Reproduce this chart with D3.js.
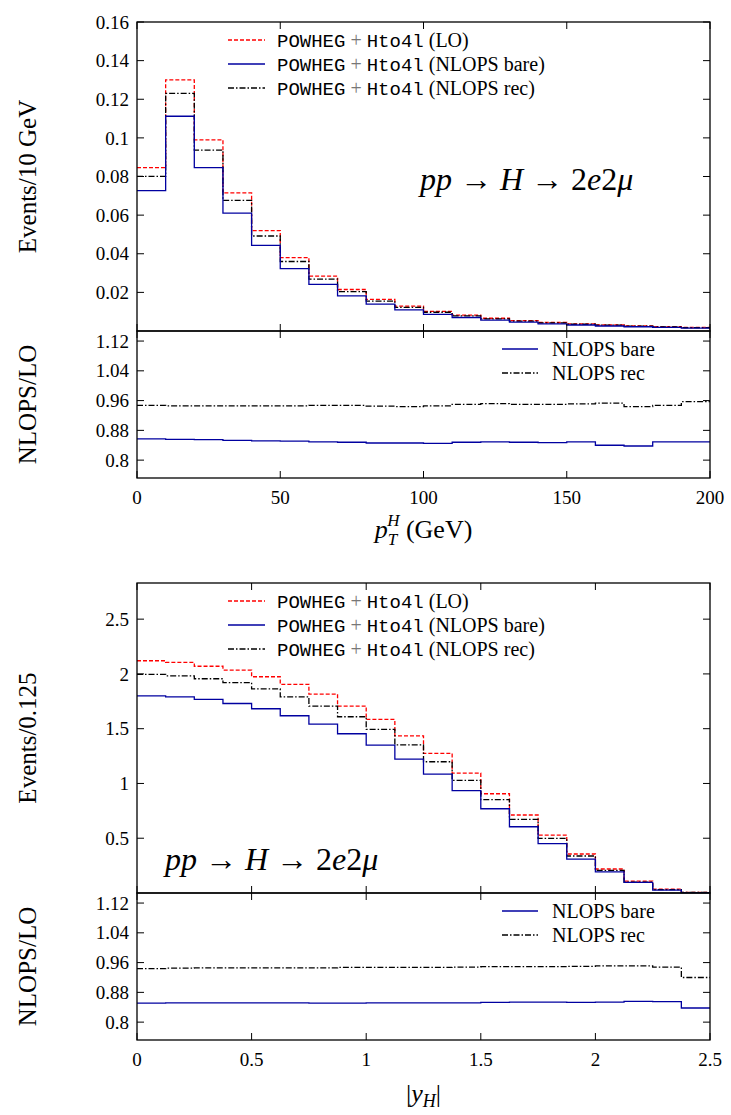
<!DOCTYPE html>
<html><head><meta charset="utf-8">
<script src="https://cdn.jsdelivr.net/npm/d3@7"></script>
<style>body{margin:0;background:#fff}</style></head>
<body><svg id="c" width="731" height="1115"></svg>
<script>
// ---- data: pT panel (bins of 10 GeV, 0..200)
const ptEdges = d3.range(0, 201, 10);
const ptLO   = [0.0846,0.1300,0.0990,0.0715,0.0520,0.0380,0.0284,0.0215,0.0164,0.0129,0.0102,0.0082,0.0066,0.0054,0.0044,0.0037,0.0031,0.0026,0.0022,0.0018];
const ptBare = [0.0727,0.1112,0.0846,0.0610,0.0443,0.0323,0.0241,0.0182,0.0139,0.0109,0.0086,0.0070,0.0056,0.0046,0.0037,0.0031,0.0026,0.0022,0.0019,0.0015];
const ptRec  = [0.0801,0.1230,0.0937,0.0676,0.0492,0.0360,0.0269,0.0204,0.0155,0.0122,0.0097,0.0078,0.0063,0.0051,0.0042,0.0035,0.0030,0.0025,0.0021,0.0017];
const ptRatioBare = [0.857,0.856,0.855,0.853,0.852,0.851,0.849,0.848,0.846,0.846,0.845,0.848,0.849,0.848,0.847,0.849,0.840,0.838,0.849,0.849];
const ptRatioRec  = [0.947,0.946,0.946,0.946,0.946,0.946,0.947,0.947,0.945,0.944,0.946,0.950,0.952,0.950,0.950,0.951,0.953,0.944,0.947,0.957];
// ---- data: |yH| panel (bins of 0.125, 0..2.5)
const yEdges = d3.range(0, 21).map(i => i * 0.125);
const yLO   = [2.120,2.105,2.070,2.035,1.974,1.904,1.816,1.706,1.585,1.435,1.274,1.095,0.906,0.712,0.529,0.356,0.219,0.109,0.036,0.006];
const yBare = [1.800,1.790,1.767,1.730,1.682,1.618,1.542,1.454,1.350,1.223,1.086,0.934,0.769,0.605,0.450,0.310,0.192,0.097,0.027,0.004];
const yRec  = [1.995,1.983,1.956,1.920,1.864,1.791,1.706,1.609,1.494,1.353,1.198,1.028,0.852,0.672,0.499,0.338,0.207,0.100,0.030,0.005];
const yRatioBare = [0.851,0.852,0.852,0.852,0.852,0.852,0.851,0.851,0.852,0.852,0.852,0.852,0.853,0.854,0.854,0.853,0.854,0.856,0.855,0.838];
const yRatioRec  = [0.944,0.945,0.946,0.946,0.946,0.946,0.946,0.947,0.947,0.947,0.947,0.948,0.949,0.949,0.949,0.950,0.951,0.951,0.948,0.920];
const ptTicks = [0.02,0.04,0.06,0.08,0.1,0.12,0.14,0.16];
const yTicks = [0.5,1,1.5,2,2.5];
const rTicks = [0.8,0.88,0.96,1.04,1.12];

const svg = d3.select("#c");
const SERIF = "'Liberation Serif','DejaVu Serif',serif";
const MONO = "'Liberation Mono','DejaVu Sans Mono',monospace";
const styles = {
  LO:{stroke:"#ff0000",dash:"4,2"},
  bare:{stroke:"#0000a0",dash:null},
  rec:{stroke:"#000",dash:"6,2,1.5,2"}
};

function step(g, x, y, edges, vals, st){
  const pts = [];
  vals.forEach((v,i)=>{pts.push([x(edges[i]),y(v)]);pts.push([x(edges[i+1]),y(v)]);});
  g.append("path").attr("d", d3.line()(pts)).attr("fill","none")
   .attr("stroke",st.stroke).attr("stroke-width",1.3).attr("stroke-dasharray",st.dash);
}
function fmt(v){return String(+v.toFixed(2));}

function panel(o){
  const L=137,R=710;
  const x=d3.scaleLinear().domain(o.xdom).range([L,R]);
  const y=d3.scaleLinear().domain(o.ydom).range([o.mb,o.mt]);
  const yr=d3.scaleLinear().domain([0.752,1.147]).range([o.rb,o.mb]);
  const g=svg.append("g");
  const clip="clip"+o.id;
  g.append("clipPath").attr("id",clip).append("rect").attr("x",L).attr("y",o.mt).attr("width",R-L).attr("height",o.rb-o.mt);
  const pg=g.append("g").attr("clip-path",`url(#${clip})`);
  step(pg,x,y,o.edges,o.LO,styles.LO);
  step(pg,x,y,o.edges,o.rec,styles.rec);
  step(pg,x,y,o.edges,o.bare,styles.bare);
  step(pg,x,yr,o.edges,o.rRec,styles.rec);
  step(pg,x,yr,o.edges,o.rBare,styles.bare);
  [[o.mt,o.mb],[o.mb,o.rb]].forEach(([a,b])=>g.append("rect").attr("x",L).attr("y",a).attr("width",R-L).attr("height",b-a).attr("fill","none").attr("stroke","#000").attr("stroke-width",1.3));
  const ax = g.append("g").attr("font-family",SERIF).attr("font-size",19);
  o.yt.forEach(t=>{
    ax.append("line").attr("x1",L).attr("x2",L+7).attr("y1",y(t)).attr("y2",y(t)).attr("stroke","#000");
    ax.append("line").attr("x1",R).attr("x2",R-7).attr("y1",y(t)).attr("y2",y(t)).attr("stroke","#000");
    ax.append("text").attr("x",L-8).attr("y",y(t)).attr("dy","0.35em").attr("text-anchor","end").text(fmt(t));
  });
  rTicks.forEach(t=>{
    ax.append("line").attr("x1",L).attr("x2",L+7).attr("y1",yr(t)).attr("y2",yr(t)).attr("stroke","#000");
    ax.append("line").attr("x1",R).attr("x2",R-7).attr("y1",yr(t)).attr("y2",yr(t)).attr("stroke","#000");
    ax.append("text").attr("x",L-8).attr("y",yr(t)).attr("dy","0.35em").attr("text-anchor","end").text(fmt(t));
  });
  o.xt.forEach(t=>{
    [[o.rb,-7],[o.mb,-7],[o.mb,7],[o.mt,7]].forEach(([yy,d])=>
      ax.append("line").attr("x1",x(t)).attr("x2",x(t)).attr("y1",yy).attr("y2",yy+d).attr("stroke","#000"));
    ax.append("text").attr("x",x(t)).attr("y",o.rb+26).attr("text-anchor","middle").text(fmt(t));
  });
  g.append("text").attr("transform",`translate(36,${(o.mt+o.mb)/2}) rotate(-90)`).attr("text-anchor","middle")
   .attr("font-family",SERIF).attr("font-size",25).text(o.ylab);
  g.append("text").attr("transform",`translate(36,${(o.mb+o.rb)/2}) rotate(-90)`).attr("text-anchor","middle")
   .attr("font-family",SERIF).attr("font-size",25).text("NLOPS/LO");
  o.xlab(g.append("g").attr("font-family",SERIF).attr("font-size",26), (L+R)/2, o.rb+62);
  const items=[["LO","(LO)"],["bare","(NLOPS bare)"],["rec","(NLOPS rec)"]];
  items.forEach((it,i)=>{
    const yy=o.mt+18+i*24, st=styles[it[0]];
    g.append("line").attr("x1",228).attr("x2",265).attr("y1",yy).attr("y2",yy).attr("stroke",st.stroke).attr("stroke-width",1.3).attr("stroke-dasharray",st.dash);
    const t=g.append("text").attr("x",277).attr("y",yy).attr("dy","0.35em").attr("font-size",19);
    t.append("tspan").attr("font-family",MONO).text("POWHEG");
    t.append("tspan").attr("font-family",SERIF).attr("fill","#777").attr("font-size",20).text(" + ");
    t.append("tspan").attr("font-family",MONO).text("Hto4l");
    t.append("tspan").attr("font-family",SERIF).attr("font-size",20).text(" "+it[1]);
  });
  [["bare","NLOPS bare"],["rec","NLOPS rec"]].forEach((it,i)=>{
    const yy=o.mb+18+i*24, st=styles[it[0]];
    g.append("line").attr("x1",502).attr("x2",538).attr("y1",yy).attr("y2",yy).attr("stroke",st.stroke).attr("stroke-width",1.3).attr("stroke-dasharray",st.dash);
    g.append("text").attr("x",552).attr("y",yy).attr("dy","0.35em").attr("font-family",SERIF).attr("font-size",20).text(it[1]);
  });
  const pt=g.append("text").attr("x",o.px).attr("y",o.py).attr("font-family",SERIF).attr("font-size",32);
  pt.append("tspan").attr("font-style","italic").text("pp");
  pt.append("tspan").text(" → ");
  pt.append("tspan").attr("font-style","italic").text("H");
  pt.append("tspan").text(" → 2");
  pt.append("tspan").attr("font-style","italic").text("e");
  pt.append("tspan").text("2");
  pt.append("tspan").attr("font-style","italic").text("μ");
}

panel({id:1,xdom:[0,200],ydom:[0,0.16],mt:22,mb:331,rb:478,edges:ptEdges,LO:ptLO,bare:ptBare,rec:ptRec,
  rBare:ptRatioBare,rRec:ptRatioRec,yt:ptTicks,xt:[0,50,100,150,200],ylab:"Events/10 GeV",px:420,py:190,
  xlab:(g,cx,cy)=>{const t=g.append("text").attr("x",cx).attr("y",cy-2).attr("text-anchor","middle");
    t.append("tspan").attr("font-style","italic").text("p");
    t.append("tspan").attr("font-style","italic").attr("font-size",17).attr("dy",7).text("T");
    t.append("tspan").attr("font-style","italic").attr("font-size",17).attr("dx",-10).attr("dy",-19).text("H");
    t.append("tspan").attr("dy",12).text("  (GeV)");}});
panel({id:2,xdom:[0,2.5],ydom:[0,2.83],mt:583,mb:893,rb:1040,edges:yEdges,LO:yLO,bare:yBare,rec:yRec,
  rBare:yRatioBare,rRec:yRatioRec,yt:yTicks,xt:[0,0.5,1,1.5,2,2.5],ylab:"Events/0.125",px:165,py:870,
  xlab:(g,cx,cy)=>{const t=g.append("text").attr("x",cx).attr("y",cy).attr("text-anchor","middle");
    t.append("tspan").text("|");
    t.append("tspan").attr("font-style","italic").text("y");
    t.append("tspan").attr("font-style","italic").attr("font-size",18).attr("dy",5).text("H");
    t.append("tspan").attr("dy",-5).text("|");}});
</script></body></html>
